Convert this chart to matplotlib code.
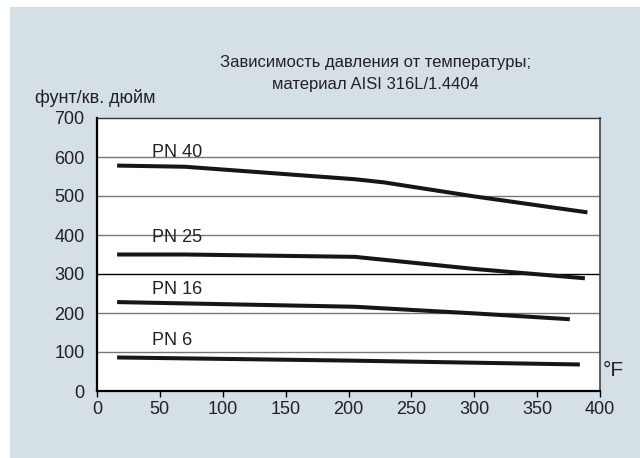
import matplotlib.pyplot as plt
from matplotlib.patches import Rectangle

plt.rcParams['font.family'] = ['Liberation Sans', 'DejaVu Sans']

# кривые давление/температура, читаны с картинки
pn40_t = [16, 70, 205, 228, 300, 390]
pn40_p = [578, 575, 543, 535, 499, 458]
pn25_t = [16, 70, 205, 300, 388]
pn25_p = [350, 350, 344, 313, 289]
pn16_t = [16, 205, 300, 376]
pn16_p = [228, 216, 199, 184]
pn6_t = [16, 200, 384]
pn6_p = [86, 78, 68]

labels = ['PN 40', 'PN 25', 'PN 16', 'PN 6']
label_y = [612, 393, 261, 129]
label_x = 44

x_ticks = [0, 50, 100, 150, 200, 250, 300, 350, 400]
y_ticks = [0, 100, 200, 300, 400, 500, 600, 700]

bg = '#d4dfe6'
txt = '#222222'

fig = plt.figure(figsize=(6.4, 4.58), dpi=100)
fig.patch.set_facecolor('white')
fig.patches.append(Rectangle((10 / 640, 0), 1, 1 - 7 / 458, transform=fig.transFigure,
                             facecolor=bg, edgecolor='none', zorder=-1))

ax = fig.add_axes([97 / 640, 67 / 458, 503 / 640, 273 / 458])
ax.set_facecolor('white')
ax.set_xlim(0, 400)
ax.set_ylim(0, 700)

for y in y_ticks[1:-1]:
    col = 'black' if y == 300 else '#767676'
    ax.axhline(y, color=col, lw=1.0, zorder=1)

for t, p in [(pn40_t, pn40_p), (pn25_t, pn25_p), (pn16_t, pn16_p), (pn6_t, pn6_p)]:
    ax.plot(t, p, color='#161616', lw=2.9, solid_capstyle='butt', zorder=3)

for lab, ly in zip(labels, label_y):
    ax.text(label_x, ly, lab, fontsize=13, color=txt, va='center', ha='left', zorder=2)

ax.set_xticks(x_ticks)
ax.set_yticks(y_ticks)
ax.tick_params(axis='x', direction='out', length=4, width=1, pad=3, labelsize=13, labelcolor=txt)
ax.tick_params(axis='y', length=0, pad=9, labelsize=13, labelcolor=txt)

ax.spines['left'].set_linewidth(1.6)
ax.spines['bottom'].set_linewidth(1.6)
ax.spines['top'].set_linewidth(1.0)
ax.spines['right'].set_linewidth(1.2)
ax.spines['top'].set_color('#333333')
ax.spines['right'].set_color('#444444')

fig.text(375 / 640, 1 - 63 / 458, 'Зависимость давления от температуры;', ha='center', va='center',
         fontsize=12, color=txt)
fig.text(375 / 640, 1 - 85 / 458, 'материал AISI 316L/1.4404', ha='center', va='center',
         fontsize=12, color=txt)
fig.text(35 / 640, 1 - 98 / 458, 'фунт/кв. дюйм', ha='left', va='center', fontsize=13, color=txt)
fig.text(603 / 640, 1 - 371 / 458, '°F', ha='left', va='center', fontsize=15, color=txt)

fig.savefig('out.png', dpi=100, facecolor=fig.get_facecolor())
